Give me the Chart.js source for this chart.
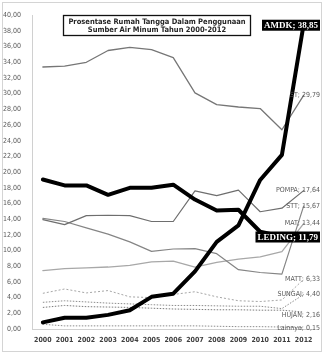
<!DOCTYPE html>
<html><head><meta charset="utf-8">
<script src="https://cdn.jsdelivr.net/npm/chart.js@4/dist/chart.umd.min.js"></script>
<style>html,body{margin:0;padding:0;background:#fff;}canvas{display:block}</style>
</head><body>
<canvas id="c" width="325" height="364"></canvas>
<script>
const years = ['2000','2001','2002','2003','2004','2005','2006','2007','2008','2009','2010','2011','2012'];
const amdk    = [0.84,1.43,1.43,1.8,2.4,4.1,4.5,7.35,11.1,13.2,19.0,22.2,38.85];
const leding  = [19.05,18.3,18.3,17.1,18.0,18.0,18.4,16.5,15.1,15.2,12.4,11.8,11.79];
const st      = [33.4,33.5,34.0,35.5,35.9,35.6,34.6,30.1,28.6,28.3,28.1,25.4,29.79];
const pompa   = [13.95,13.3,14.45,14.5,14.45,13.7,13.7,17.6,17.0,17.7,14.95,15.4,17.64];
const stt     = [14.1,13.7,12.9,12.1,11.1,9.9,10.2,10.25,9.6,7.56,7.2,7.0,15.67];
const mat     = [7.45,7.7,7.8,7.9,8.1,8.55,8.65,7.9,8.5,8.9,9.2,9.85,13.44];
const matt    = [4.55,5.1,4.6,4.9,4.1,4.0,4.4,4.75,4.1,3.6,3.5,3.7,6.33];
const sungai  = [3.4,3.6,3.45,3.3,3.2,3.1,3.0,3.0,2.95,2.9,2.9,2.6,4.40];
const hujan   = [2.75,3.0,2.85,2.8,2.75,2.65,2.55,2.5,2.45,2.45,2.4,2.4,2.16];
const lainnya = [0.6,0.4,0.4,0.4,0.4,0.4,0.4,0.4,0.35,0.3,0.3,0.25,0.15];
const titleLines = ['Prosentase Rumah Tangga Dalam Penggunaan','Sumber Air Minum Tahun 2000-2012'];
const yMin = 0, yMax = 40, yStep = 2;

const FONT = "'Liberation Sans Narrow','DejaVu Sans Condensed','Liberation Sans',Arial,sans-serif";
const fmt = v => v.toFixed(2).replace('.', ',');

function ds(name, data, color, width, dash, boxed, dy){
  return {label:name, data, borderColor:color, backgroundColor:color, borderWidth:width,
    borderDash:dash||[], pointRadius:0, tension:0, borderJoinStyle:'round', borderCapStyle:dash?'butt':'round',
    fill:false, _boxed:!!boxed, _dy:dy||0};
}

const datasets = [
  ds('AMDK', amdk, '#000000', 4, null, true, 1),
  ds('LEDING', leding, '#000000', 4, null, true, 0.5),
  ds('ST', st, '#767676', 1.3),
  ds('POMPA', pompa, '#6e6e6e', 1.2),
  ds('STT', stt, '#858585', 1.2),
  ds('MAT', mat, '#a8a8a8', 1.3),
  ds('MATT', matt, '#a6a6a6', 1, [2,2]),
  ds('SUNGAI', sungai, '#8c8c8c', 1, [1.5,1.5]),
  ds('HUJAN', hujan, '#7a7a7a', 1, [1.5,1.5], false, 3),
  ds('Lainnya', lainnya, '#8c8c8c', 1, [1.5,1.5])
];

const decor = {
  id:'decor',
  beforeDraw(chart){
    const ctx = chart.ctx;
    ctx.save();
    ctx.fillStyle = '#fff'; ctx.fillRect(0,0,chart.width,chart.height);
    ctx.strokeStyle = '#d4d4d4'; ctx.lineWidth = 1;
    ctx.strokeRect(2.5,2.5,319,349);
    ctx.restore();
  },
  afterDatasetsDraw(chart){
    const ctx = chart.ctx, ys = chart.scales.y;
    ctx.save();
    // title box
    ctx.fillStyle = '#fff';
    ctx.fillRect(63,15,188,21);
    ctx.strokeStyle = '#111'; ctx.lineWidth = 1.3;
    ctx.strokeRect(63.5,15.5,187,20);
    ctx.fillStyle = '#262626';
    ctx.font = "bold 7.5px " + FONT;
    ctx.textAlign = 'center'; ctx.textBaseline = 'middle';
    ctx.fillText(titleLines[0], 157, 22);
    ctx.fillText(titleLines[1], 157, 30.5);
    // data labels
    const rightX = 320;
    chart.data.datasets.forEach(d => {
      const v = d.data[d.data.length-1];
      const y = ys.getPixelForValue(v) + d._dy;
      const text = d.label + '; ' + fmt(v);
      if (d._boxed){
        ctx.font = "bold 9px 'Liberation Serif','DejaVu Serif',serif";
        const w = ctx.measureText(text).width;
        ctx.fillStyle = '#000';
        ctx.fillRect(rightX - w - 4, y - 5.5, w + 4, 11);
        ctx.fillStyle = '#fff';
        ctx.textAlign = 'right'; ctx.textBaseline = 'middle';
        ctx.fillText(text, rightX - 2, y + 0.5);
      } else {
        ctx.font = "7px " + FONT;
        ctx.fillStyle = '#595959';
        ctx.textAlign = 'right'; ctx.textBaseline = 'middle';
        ctx.fillText(text, rightX, y);
      }
    });
    ctx.restore();
  }
};

new Chart(document.getElementById('c'), {
  type:'line',
  data:{labels:years, datasets},
  options:{
    responsive:false, animation:false, devicePixelRatio:1,
    layout:{padding:{top:9, right:10.5, left:0, bottom:0}},
    plugins:{legend:{display:false}, tooltip:{enabled:false}, title:{display:false}},
    scales:{
      x:{
        offset:true,
        grid:{display:false, drawTicks:false},
        border:{display:true, color:'#d0d0d0', width:1},
        ticks:{color:'#404040', font:{family:FONT, size:7, weight:'bold'}, padding:7, maxRotation:0, autoSkip:false},
        afterFit(s){ s.height = 35; }
      },
      y:{
        min:yMin, max:yMax,
        grid:{display:false, drawTicks:false},
        border:{display:true, color:'#d0d0d0', width:1},
        ticks:{stepSize:yStep, color:'#595959', font:{family:FONT, size:7}, padding:11,
          callback:v => fmt(v)},
        afterFit(s){ s.width = 32; }
      }
    }
  },
  plugins:[decor]
});
</script>
</body></html>
